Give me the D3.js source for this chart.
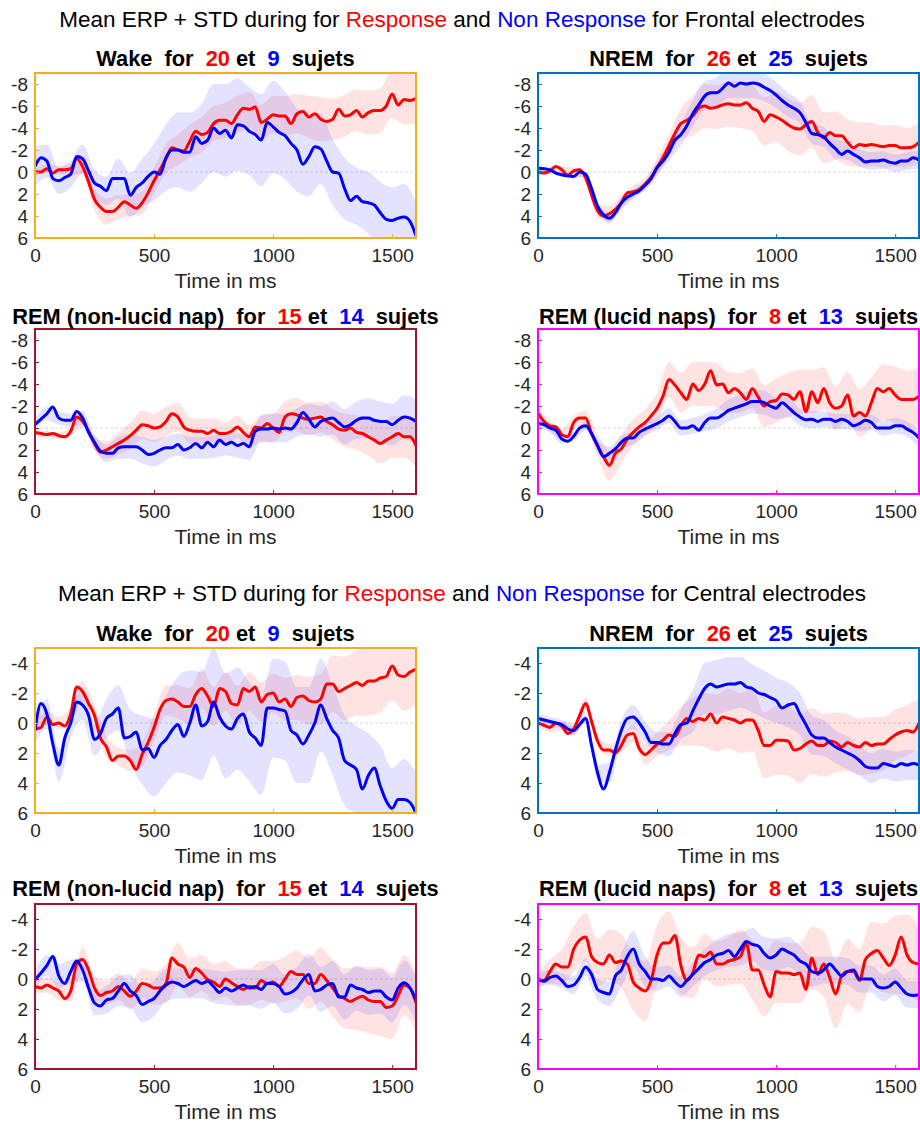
<!DOCTYPE html>
<html><head><meta charset="utf-8">
<script src="https://cdn.jsdelivr.net/npm/d3@7"></script>
<style>
body{margin:0;background:#fff;}
svg text{font-family:"Liberation Sans",Arial,Helvetica,sans-serif;}
</style>
</head><body>
<svg id="c" width="920" height="1124" xml:space="preserve"></svg>
<script>
// ---------- DATA ----------
const timeMs = [0,25,50,75,100,125,150,175,200,225,250,275,300,325,350,375,400,425,450,475,500,525,550,575,600,625,650,675,700,725,750,775,800,825,850,875,900,925,950,975,1000,1025,1050,1075,1100,1125,1150,1175,1200,1225,1250,1275,1300,1325,1350,1375,1400,1425,1450,1475,1500,1525,1550,1575,1600];
const stdTimeMs = [0,50,100,150,200,250,300,350,400,450,500,550,600,650,700,750,800,850,900,950,1000,1050,1100,1150,1200,1250,1300,1350,1400,1450,1500,1550,1600];
const xTickValues = [0,500,1000,1500];
const yTicksFrontal = [-8,-6,-4,-2,0,2,4,6];
const yTicksCentral = [-4,-2,0,2,4,6];

// Frontal - Wake
const fWakeResp = [0.0,0.0,-0.3,0.1,-0.2,-0.2,-0.3,-1.2,-0.5,0.9,2.5,3.2,3.6,3.6,3.2,2.7,3.0,3.3,2.8,1.9,0.8,-0.2,-1.2,-2.2,-2.0,-1.9,-2.8,-3.7,-3.4,-3.6,-4.4,-4.7,-4.7,-4.4,-5.2,-5.8,-5.7,-5.9,-4.5,-4.8,-5.2,-5.1,-5.1,-4.4,-5.3,-5.5,-5.0,-5.3,-4.8,-4.6,-4.8,-5.7,-5.1,-5.2,-5.6,-5.0,-5.4,-5.6,-5.6,-6.0,-7.1,-6.1,-6.6,-6.5,-6.7];
const fWakeNon = [-0.5,-1.3,-1.0,0.6,0.8,0.5,0.2,-1.4,-1.2,-0.1,1.0,1.3,1.7,0.6,0.6,0.6,2.1,1.4,1.0,0.4,0.0,0.2,-1.3,-2.0,-2.0,-1.8,-1.8,-3.2,-2.6,-2.9,-4.0,-3.5,-3.8,-3.1,-4.3,-4.2,-3.7,-3.4,-2.9,-4.5,-4.1,-3.6,-3.3,-2.6,-2.0,-0.7,-1.4,-2.3,-2.1,-1.0,0.0,0.1,1.5,2.6,2.2,2.7,2.8,3.0,3.7,4.3,4.4,4.2,4.1,4.5,5.8];
const fWakeRespStd = [0.3,0.4,0.4,0.5,0.8,1.0,1.2,1.1,1.0,1.0,1.2,1.3,1.4,1.5,1.6,1.6,1.6,1.7,1.6,1.6,1.7,1.8,1.8,1.9,2.0,1.9,1.9,1.9,2.0,2.0,2.2,2.3,2.3];
const fWakeNonStd = [1.8,1.5,1.2,1.2,1.3,1.2,1.3,1.8,2.0,2.2,2.6,3.0,3.4,3.6,3.6,4.0,4.2,4.2,4.0,4.2,4.2,4.0,3.8,3.6,3.2,3.0,2.8,2.6,2.8,2.8,3.0,3.0,3.0];

// Frontal - NREM
const fNremResp = [0.0,0.1,-0.1,-0.5,-0.2,0.3,-0.1,-0.2,0.5,2.1,3.5,4.0,3.8,3.4,2.8,1.9,1.8,1.6,1.1,0.5,-0.4,-1.3,-2.4,-3.5,-4.4,-4.7,-5.1,-5.8,-6.0,-5.8,-5.9,-6.1,-6.2,-6.1,-6.1,-6.3,-5.8,-5.5,-4.6,-5.2,-5.0,-4.7,-4.3,-4.0,-3.9,-4.3,-4.6,-3.6,-3.1,-3.6,-3.3,-3.3,-2.7,-2.2,-2.5,-2.4,-2.5,-2.4,-2.3,-2.4,-2.4,-2.2,-2.2,-2.3,-2.7];
const fNremNon = [-0.35,-0.3,-0.2,0.1,0.25,0.35,0.4,0.0,0.2,1.5,3.1,3.9,4.2,3.7,2.8,2.3,2.0,1.7,1.2,0.6,-0.4,-1.0,-1.8,-2.9,-3.4,-4.2,-5.3,-6.1,-6.9,-7.2,-7.2,-7.6,-8.1,-7.8,-8.1,-8.0,-8.1,-8.0,-7.7,-7.4,-7.0,-6.5,-6.1,-5.8,-5.4,-4.5,-3.5,-3.4,-3.2,-2.6,-2.1,-1.6,-1.9,-1.6,-1.3,-0.9,-1.0,-1.0,-1.1,-0.9,-0.8,-1.0,-1.0,-1.3,-1.1];
const fNremRespStd = [0.3,0.3,0.3,0.3,0.4,0.6,0.7,0.7,0.6,0.6,0.8,1.0,1.4,1.8,2.0,2.0,2.1,2.1,2.1,2.2,2.3,2.4,2.4,2.4,2.3,2.2,2.1,2.0,2.0,1.9,1.9,1.8,1.8];
const fNremNonStd = [0.2,0.2,0.2,0.2,0.2,0.3,0.5,0.5,0.4,0.4,0.6,0.8,1.0,1.2,1.3,1.4,1.4,1.4,1.4,1.3,1.2,1.1,1.0,0.9,0.9,0.9,0.8,0.8,0.8,0.8,0.8,0.8,0.8];

// Frontal - REM non-lucid
const fRemNlResp = [0.4,0.5,0.6,0.5,0.7,0.8,0.3,-1.0,-0.6,0.3,1.4,2.2,2.0,1.7,1.4,1.1,0.7,0.2,-0.3,-0.2,0.0,-0.1,-0.6,-1.3,-1.0,-0.1,0.2,0.3,0.3,0.5,0.2,0.5,0.5,0.3,-0.1,0.4,0.8,-0.1,0.0,-0.4,0.0,0.4,-1.0,-1.3,-1.2,-0.9,-0.8,-0.9,-1.0,-0.6,-0.3,0.1,0.2,0.0,0.4,0.5,0.8,1.1,1.4,1.1,0.8,0.5,0.8,0.8,1.6];
const fRemNlNon = [-0.3,-0.8,-1.3,-1.9,-0.9,-0.7,-0.7,-1.5,-0.9,0.4,1.3,2.1,2.3,2.3,1.8,1.7,1.7,1.7,2.0,2.4,2.3,2.0,1.8,1.8,1.5,2.0,1.8,1.4,1.8,1.3,1.7,1.1,1.5,1.3,1.6,1.4,1.7,0.3,0.1,0.1,0.0,0.1,0.0,0.1,-0.5,-1.4,-0.8,-0.1,-0.6,-0.8,-0.9,-0.5,-0.1,-0.3,-0.7,-0.9,-0.9,-0.7,-0.6,-0.6,-0.3,-0.7,-1.0,-0.9,-0.6];
const fRemNlRespStd = [0.3,0.3,0.3,0.4,0.5,0.6,0.8,1.0,1.2,1.3,1.3,1.3,1.3,1.2,1.1,1.1,1.0,1.0,1.1,1.2,1.3,1.4,1.5,1.5,1.4,1.4,1.5,1.6,1.7,1.8,1.9,1.9,2.0];
const fRemNlNonStd = [0.5,0.6,0.6,0.6,0.6,0.7,0.8,1.0,1.1,1.2,1.2,1.1,1.0,1.0,1.0,1.0,1.0,1.1,1.2,1.2,1.3,1.3,1.3,1.4,1.4,1.5,1.6,1.7,1.8,1.8,1.9,2.0,2.0];

// Frontal - REM lucid
const fRemLResp = [-1.35,-0.6,-0.2,-0.1,0.6,0.8,-0.5,-0.9,-0.9,0.5,1.6,2.6,3.4,2.3,1.9,1.0,0.4,-0.1,-0.5,-1.1,-1.8,-2.9,-4.4,-3.9,-3.2,-2.6,-4.0,-3.4,-4.0,-5.2,-3.9,-4.0,-3.2,-3.6,-3.2,-2.6,-3.6,-2.8,-2.0,-2.4,-2.5,-3.1,-3.0,-2.6,-3.3,-1.5,-3.3,-2.3,-3.6,-2.3,-1.8,-2.0,-3.0,-1.1,-1.4,-1.1,-2.3,-3.6,-3.3,-3.6,-3.0,-2.6,-2.6,-2.6,-2.9];
const fRemLNon = [-0.4,-0.3,0.0,0.2,1.0,1.2,0.75,0.0,-0.2,0.5,1.6,2.6,2.3,1.9,1.3,0.9,0.9,0.4,0.1,-0.15,-0.4,-0.7,-1.1,-0.6,0.0,0.0,-0.2,0.2,-0.5,-0.9,-0.9,-1.2,-1.6,-1.8,-2.0,-2.2,-2.4,-2.4,-2.3,-2.0,-1.8,-2.3,-1.9,-1.4,-1.0,-0.75,-0.8,-0.6,-0.8,-0.8,-0.6,-0.8,-0.6,-0.2,-0.4,-0.7,-0.5,0.0,0.0,0.0,-0.2,-0.2,0.1,0.4,0.9];
const fRemLRespStd = [0.5,0.5,0.5,0.6,0.7,1.0,1.4,1.3,1.2,1.2,1.4,1.6,1.8,2.0,2.0,2.0,1.9,1.8,1.8,1.9,2.0,2.0,2.0,2.0,1.9,2.0,2.1,2.2,2.3,2.5,2.6,2.6,2.6];
const fRemLNonStd = [0.4,0.4,0.4,0.4,0.4,0.5,0.6,0.6,0.6,0.6,0.6,0.7,0.7,0.7,0.8,0.9,1.0,1.0,1.1,1.1,1.0,0.9,0.8,0.8,0.7,0.7,0.7,0.7,0.7,0.7,0.7,0.7,0.8];

// Central - Wake
const cWakeResp = [0.4,0.3,-0.4,0.1,0.0,0.2,-0.6,-2.4,-2.1,-1.3,-0.5,1.0,1.6,2.5,2.2,2.2,2.5,3.1,2.1,1.3,0.3,-0.9,-1.5,-1.6,-1.4,-1.1,-1.1,-1.9,-2.3,-1.8,-1.1,-2.3,-2.1,-1.3,-1.2,-2.3,-2.1,-2.4,-1.4,-1.9,-2.0,-1.4,-1.6,-1.1,-1.7,-1.8,-1.5,-1.4,-1.6,-2.6,-2.6,-2.1,-2.3,-2.5,-2.7,-2.5,-2.8,-2.8,-3.0,-3.1,-3.8,-3.2,-3.1,-3.4,-3.6];
const cWakeNon = [0.5,-1.3,-0.6,1.4,2.8,1.0,0.0,-1.4,-1.2,-0.5,1.1,0.7,-0.3,-0.6,-1.0,1.0,0.9,0.6,1.8,1.7,2.3,1.5,1.1,0.5,0.1,0.9,0.0,-1.2,0.2,-0.1,-1.4,-0.4,0.2,0.4,-0.3,-0.6,0.6,1.0,1.5,-1.0,-1.0,-0.9,-0.8,0.5,0.8,1.4,0.8,0.0,-1.2,-0.3,0.5,1.0,2.5,2.8,3.1,4.4,3.5,3.0,4.2,5.2,5.7,5.1,5.1,5.3,6.0];
const cWakeRespStd = [0.3,0.4,0.4,0.5,0.7,0.7,0.7,0.6,0.7,0.8,0.9,1.0,1.1,1.2,1.3,1.3,1.3,1.3,1.3,1.3,1.3,1.4,1.5,1.6,1.7,1.9,2.1,2.2,2.3,2.3,2.3,2.3,2.3];
const cWakeNonStd = [0.8,1.0,1.1,1.0,1.0,1.1,1.3,1.5,1.8,2.3,2.6,2.9,3.2,3.5,3.6,3.6,3.5,3.4,3.3,3.3,3.3,3.3,3.2,3.2,3.1,3.0,3.0,2.9,2.8,2.7,2.7,2.7,2.7];

// Central - NREM
const cNremResp = [0.0,0.15,0.3,0.0,0.2,0.7,0.4,-0.5,-1.3,-0.1,1.2,1.8,1.8,2.0,1.5,0.8,0.7,1.7,2.1,1.8,1.4,1.15,0.8,0.9,0.2,-0.3,-0.1,-0.3,-0.2,-0.6,0.0,-0.4,-0.3,-0.2,0.0,-0.2,-0.2,0.5,1.5,1.5,1.15,1.15,1.2,1.8,1.7,1.4,1.2,1.5,1.5,1.2,1.3,1.6,1.3,1.5,1.6,1.3,1.5,1.4,1.4,1.1,0.8,0.6,0.5,0.6,0.0];
const cNremNon = [-0.3,-0.2,-0.1,0.0,0.1,0.4,0.5,0.1,-0.3,1.5,3.3,4.4,3.3,1.8,0.5,-0.3,-0.4,0.0,0.6,1.3,1.3,1.4,1.4,0.7,0.1,0.0,-0.8,-1.6,-2.3,-2.6,-2.4,-2.5,-2.6,-2.6,-2.7,-2.4,-2.3,-2.0,-1.9,-1.7,-1.5,-1.0,-1.2,-1.3,-0.6,0.1,0.8,1.0,1.0,1.3,1.6,1.8,2.0,2.2,2.5,2.9,3.0,3.0,2.7,2.8,2.9,2.7,2.8,2.7,2.8];
const cNremRespStd = [0.3,0.3,0.3,0.4,0.4,0.4,0.4,0.5,0.6,0.7,0.8,1.0,1.3,1.6,1.8,1.9,2.0,2.0,2.1,2.2,2.3,2.3,2.3,2.2,2.1,2.0,1.9,1.9,1.9,1.8,1.7,1.7,1.6];
const cNremNonStd = [0.3,0.3,0.3,0.3,0.3,0.5,0.7,0.7,0.8,0.7,0.7,0.8,1.0,1.4,1.7,1.8,1.8,1.7,1.6,1.6,1.5,1.5,1.4,1.3,1.2,1.1,1.1,1.0,1.0,1.0,1.0,1.0,1.0];

// Central - REM non-lucid
const cRemNlResp = [0.5,0.6,0.4,0.6,0.8,1.3,0.8,-1.0,-1.3,-0.6,0.6,1.1,0.9,0.8,0.5,0.8,1.15,0.8,0.3,0.4,0.6,0.6,0.3,-1.4,-1.0,-0.8,-0.1,-0.7,-0.4,0.05,0.2,0.5,0.0,0.25,0.5,0.7,0.5,0.6,0.1,0.3,0.2,0.5,0.0,-0.5,-0.3,-0.3,0.3,0.3,-0.3,0.1,0.6,1.1,1.3,1.5,1.3,1.15,1.4,1.5,1.5,1.9,1.8,1.1,0.4,0.6,1.6];
const cRemNlNon = [0.05,-0.4,-0.9,-1.5,-0.2,0.3,-0.5,-1.2,-0.6,0.6,1.6,1.8,1.4,1.3,0.8,0.3,0.8,1.1,1.7,1.5,1.3,0.8,0.4,0.2,0.3,0.5,0.3,0.1,0.3,0.15,0.5,0.9,0.6,0.8,0.6,0.4,0.6,0.5,0.7,0.3,0.3,0.5,1.0,0.9,0.6,0.05,-0.3,0.8,0.7,0.4,0.3,1.2,1.2,0.4,0.6,0.7,0.9,0.8,0.8,1.2,1.4,0.6,0.25,0.6,1.4];
const cRemNlRespStd = [0.5,0.5,0.6,0.7,0.8,0.8,0.8,0.9,0.9,1.0,1.1,1.3,1.4,1.3,1.2,1.2,1.2,1.2,1.2,1.3,1.4,1.5,1.6,1.7,1.8,1.9,2.0,2.1,2.2,2.3,2.2,2.0,2.0];
const cRemNlNonStd = [0.6,0.7,0.8,0.8,0.8,0.8,0.9,1.0,1.1,1.2,1.2,1.1,1.0,1.0,1.0,1.1,1.1,1.2,1.2,1.3,1.3,1.3,1.4,1.4,1.5,1.5,1.5,1.5,1.5,1.5,1.5,1.5,1.5];

// Central - REM lucid
const cRemLResp = [0.05,0.1,-0.5,-1.0,-0.8,-0.8,-2.0,-2.6,-2.8,-1.5,-1.1,-1.0,-1.6,-1.1,-1.2,-1.0,0.2,0.6,0.8,0.1,-1.6,-2.4,-2.4,-2.9,-0.9,0.1,-0.4,-1.6,-1.5,-1.8,-1.0,-1.0,-1.2,-1.3,-1.5,-2.4,-0.6,-0.6,0.4,1.2,-0.5,-0.4,-0.4,-0.3,-0.4,0.7,-1.4,-0.3,-1.0,-0.1,1.0,-0.2,-0.5,-0.5,0.1,-1.3,-1.7,-1.9,-1.4,-0.9,-1.6,-2.8,-1.6,-1.1,-1.0];
const cRemLNon = [0.05,0.15,-0.1,-0.2,0.1,0.5,0.4,-0.1,-0.8,-0.3,0.7,0.9,1.0,-0.2,-0.6,-1.5,-2.0,-1.0,-0.5,0.0,0.0,0.1,-0.2,0.2,0.5,0.1,-0.3,-0.7,-1.1,-1.3,-1.6,-1.7,-1.9,-1.5,-2.0,-2.5,-2.3,-2.2,-1.7,-1.4,-1.6,-2.0,-1.8,-1.6,-1.2,-1.0,-0.5,-0.4,-0.6,-1.0,-0.6,-0.2,-0.5,-0.6,0.0,0.0,0.0,0.5,0.6,0.5,0.2,0.6,1.0,1.1,1.05];
const cRemLRespStd = [0.5,0.8,1.2,1.5,1.6,1.6,1.7,1.8,1.9,2.0,2.0,2.1,1.9,1.7,1.5,1.5,1.6,1.8,2.0,2.1,2.1,2.0,2.0,2.1,2.2,2.3,2.2,2.1,2.1,2.3,2.6,2.7,2.5];
const cRemLNonStd = [0.4,0.5,0.5,0.6,0.6,0.7,0.8,1.1,1.2,1.0,0.8,0.7,0.7,0.8,0.9,1.0,1.1,1.1,1.1,1.1,1.1,1.0,1.0,1.0,0.9,0.9,0.9,0.9,0.9,0.9,0.9,0.9,0.9];

// ---------- LAYOUT ----------
const colX = [[35,416],[538,919]];
const rowY = [[73,238],[329,494],[648,813],[904,1069]];
const RED = '#ff0000', BLUE = '#0000ff';

const panels = [
  {title:['Wake  for  ','20',' et  ','9','  sujets'], border:'#EDB120', resp:fWakeResp, non:fWakeNon, rs:fWakeRespStd, ns:fWakeNonStd, dom:[-9,6], ticks:yTicksFrontal, col:0,row:0},
  {title:['NREM  for  ','26',' et  ','25','  sujets'], border:'#0072BD', resp:fNremResp, non:fNremNon, rs:fNremRespStd, ns:fNremNonStd, dom:[-9,6], ticks:yTicksFrontal, col:1,row:0},
  {title:['REM (non-lucid nap)  for  ','15',' et  ','14','  sujets'], border:'#A2142F', resp:fRemNlResp, non:fRemNlNon, rs:fRemNlRespStd, ns:fRemNlNonStd, dom:[-9,6], ticks:yTicksFrontal, col:0,row:1},
  {title:['REM (lucid naps)  for  ','8',' et  ','13','  sujets'], border:'#FF00FF', resp:fRemLResp, non:fRemLNon, rs:fRemLRespStd, ns:fRemLNonStd, dom:[-9,6], ticks:yTicksFrontal, col:1,row:1},
  {title:['Wake  for  ','20',' et  ','9','  sujets'], border:'#EDB120', resp:cWakeResp, non:cWakeNon, rs:cWakeRespStd, ns:cWakeNonStd, dom:[-5,6], ticks:yTicksCentral, col:0,row:2},
  {title:['NREM  for  ','26',' et  ','25','  sujets'], border:'#0072BD', resp:cNremResp, non:cNremNon, rs:cNremRespStd, ns:cNremNonStd, dom:[-5,6], ticks:yTicksCentral, col:1,row:2},
  {title:['REM (non-lucid nap)  for  ','15',' et  ','14','  sujets'], border:'#A2142F', resp:cRemNlResp, non:cRemNlNon, rs:cRemNlRespStd, ns:cRemNlNonStd, dom:[-5,6], ticks:yTicksCentral, col:0,row:3},
  {title:['REM (lucid naps)  for  ','8',' et  ','13','  sujets'], border:'#FF00FF', resp:cRemLResp, non:cRemLNon, rs:cRemLRespStd, ns:cRemLNonStd, dom:[-5,6], ticks:yTicksCentral, col:1,row:3}
];

const svg = d3.select('#c');
const defs = svg.append('defs');

function mainTitle(y, region){
  const t = svg.append('text').attr('x',462).attr('y',y).attr('text-anchor','middle')
    .style('font-size','22.5px').attr('fill','#000');
  t.append('tspan').text('Mean ERP + STD during for ');
  t.append('tspan').attr('fill',RED).text('Response');
  t.append('tspan').text(' and ');
  t.append('tspan').attr('fill',BLUE).text('Non Response');
  t.append('tspan').text(' for ' + region + ' electrodes');
}
mainTitle(27,'Frontal');
mainTitle(601,'Central');

const titleBase = [66,324,641,896];

panels.forEach((p,i)=>{
  const [x0,x1] = colX[p.col], [y0,y1] = rowY[p.row];
  const x = d3.scaleLinear().domain([0,1600]).range([x0,x1]);
  const y = d3.scaleLinear().domain(p.dom).range([y0,y1]);
  const g = svg.append('g');

  defs.append('clipPath').attr('id','clip'+i).append('rect')
    .attr('x',x0).attr('y',y0).attr('width',x1-x0).attr('height',y1-y0);
  const pg = g.append('g').attr('clip-path',`url(#clip${i})`);

  // zero line
  pg.append('line').attr('x1',x0).attr('x2',x1).attr('y1',y(0)).attr('y2',y(0))
    .attr('stroke','#c8c8c8').attr('stroke-width',0.7).attr('stroke-dasharray','3,2');

  const bandData = (mean,std) => stdTimeMs.map((t,j)=>({t, m:mean[timeMs.indexOf(t)], s:std[j]}));
  const area = d3.area().x(d=>x(d.t)).y0(d=>y(d.m-d.s)).y1(d=>y(d.m+d.s)).curve(d3.curveMonotoneX);
  pg.append('path').datum(bandData(p.resp,p.rs)).attr('d',area).attr('fill',RED).attr('fill-opacity',0.11);
  pg.append('path').datum(bandData(p.non,p.ns)).attr('d',area).attr('fill',BLUE).attr('fill-opacity',0.11);

  const line = d3.line().x((d,j)=>x(timeMs[j])).y(d=>y(d)).curve(d3.curveMonotoneX);
  pg.append('path').datum(p.resp).attr('d',line).attr('fill','none').attr('stroke',RED).attr('stroke-width',3).attr('stroke-linejoin','round');
  pg.append('path').datum(p.non).attr('d',line).attr('fill','none').attr('stroke',BLUE).attr('stroke-width',3).attr('stroke-linejoin','round');

  // axes
  const xa = g.append('g').attr('transform',`translate(0,${y1})`)
    .call(d3.axisBottom(x).tickValues(xTickValues).tickSize(-4).tickPadding(11).tickFormat(d=>String(d)));
  const ya = g.append('g').attr('transform',`translate(${x0},0)`)
    .call(d3.axisLeft(y).tickValues(p.ticks).tickSize(-4).tickPadding(7).tickFormat(d=>String(d)));
  [xa,ya].forEach(a=>{
    a.select('.domain').remove();
    a.selectAll('line').attr('stroke',p.border).attr('stroke-width',1);
    a.selectAll('text').attr('fill','#262626').style('font-size','19px').attr('font-family',null);
  });

  // box
  g.append('rect').attr('x',x0).attr('y',y0).attr('width',x1-x0).attr('height',y1-y0)
    .attr('fill','none').attr('stroke',p.border).attr('stroke-width',2);

  // panel title
  const cx = (x0+x1)/2;
  const tt = g.append('text').attr('x',cx).attr('y',titleBase[p.row]).attr('text-anchor','middle')
    .style('font-size','21.8px').style('font-weight','bold').style('white-space','pre').attr('fill','#000');
  tt.append('tspan').text(p.title[0]);
  tt.append('tspan').attr('fill',RED).text(p.title[1]);
  tt.append('tspan').text(p.title[2]);
  tt.append('tspan').attr('fill',BLUE).text(p.title[3]);
  tt.append('tspan').text(p.title[4]);

  // x label
  g.append('text').attr('x',cx).attr('y',y1+50).attr('text-anchor','middle')
    .style('font-size','21px').attr('fill','#262626').text('Time in ms');
});
</script>
</body></html>
